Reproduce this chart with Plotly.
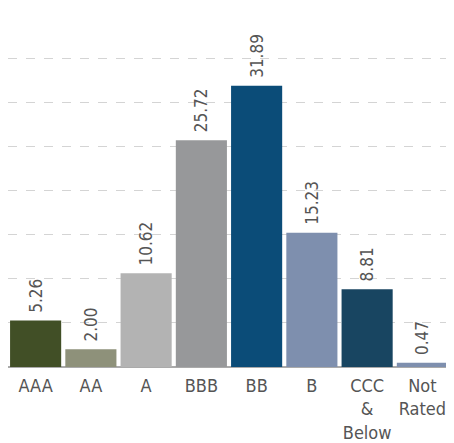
import plotly.graph_objects as go

categories = ["AAA", "AA", "A", "BBB", "BB", "B", "CCC<br>&<br>Below", "Not<br>Rated"]
values = [5.26, 2.00, 10.62, 25.72, 31.89, 15.23, 8.81, 0.47]
value_labels = ["5.26", "2.00", "10.62", "25.72", "31.89", "15.23", "8.81", "0.47"]
colors = ["#414f26", "#8e917a", "#b3b3b3", "#97989a", "#0b4c78", "#7e8fae", "#184561", "#7e8fae"]

FONT = "DejaVu Sans Condensed, Roboto, sans-serif"

fig = go.Figure(
    go.Bar(
        x=categories,
        y=values,
        marker=dict(color=colors, line=dict(width=0)),
        text=["\u00a0" + v for v in value_labels],
        textposition="outside",
        textangle=-90,
        cliponaxis=False,
        textfont=dict(family=FONT, size=17, color="#555555"),
        hoverinfo="skip",
    )
)

fig.update_layout(
    width=446,
    height=435,
    margin=dict(l=0, r=4, t=15, b=65),
    paper_bgcolor="white",
    plot_bgcolor="white",
    bargap=0.075,
    showlegend=False,
    font=dict(family=FONT, color="#555555"),
    xaxis=dict(
        showgrid=False,
        showline=False,
        ticks="",
        tickfont=dict(family=FONT, size=18, color="#555555"),
        ticklabelstandoff=6,
        fixedrange=True,
    ),
    yaxis=dict(
        range=[0, 39],
        dtick=5,
        showticklabels=False,
        showgrid=True,
        gridcolor="#d4d4d4",
        griddash="dash",
        gridwidth=1,
        zeroline=True,
        zerolinecolor="#aaaaaa",
        zerolinewidth=2,
        fixedrange=True,
    ),
)

fig.write_html("out.html")
